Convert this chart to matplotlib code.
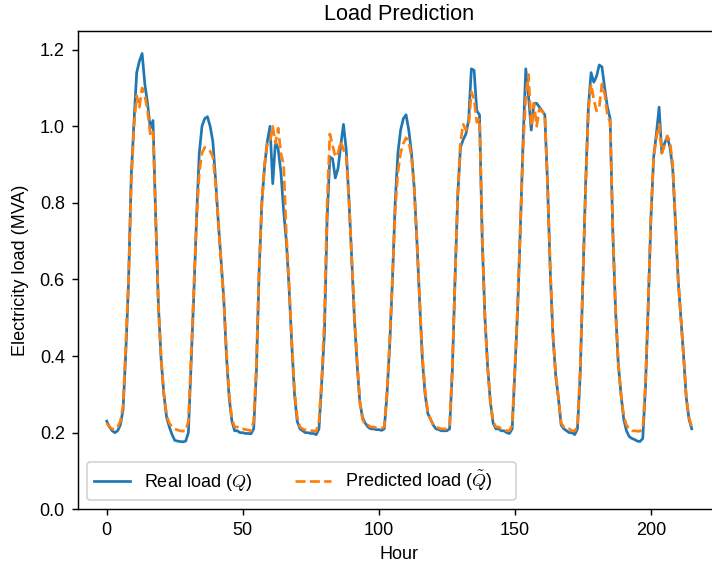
import numpy as np
import matplotlib
matplotlib.use('Agg')
import matplotlib.pyplot as plt

plt.rcParams['font.family'] = ['Liberation Sans', 'DejaVu Sans']
plt.rcParams['mathtext.fontset'] = 'cm'

# Real load (MVA), one row per day (24 hours each)
real_load = [
    0.23, 0.215, 0.205, 0.20, 0.205, 0.22, 0.26, 0.41, 0.59, 0.87, 1.01, 1.14, 1.17, 1.19, 1.11, 1.06, 0.995, 1.015, 0.76, 0.53, 0.39, 0.30, 0.24, 0.215,
    0.195, 0.18, 0.178, 0.177, 0.176, 0.178, 0.20, 0.38, 0.56, 0.76, 0.93, 1.00, 1.02, 1.025, 1.00, 0.96, 0.86, 0.75, 0.65, 0.55, 0.40, 0.29, 0.23, 0.205,
    0.205, 0.20, 0.20, 0.198, 0.198, 0.197, 0.21, 0.36, 0.62, 0.80, 0.895, 0.96, 1.00, 0.85, 0.96, 0.94, 0.88, 0.78, 0.70, 0.58, 0.43, 0.30, 0.23, 0.21,
    0.205, 0.20, 0.20, 0.198, 0.198, 0.195, 0.21, 0.33, 0.46, 0.76, 0.92, 0.915, 0.865, 0.89, 0.95, 1.005, 0.94, 0.81, 0.66, 0.50, 0.38, 0.28, 0.24, 0.225,
    0.215, 0.21, 0.21, 0.208, 0.208, 0.206, 0.21, 0.30, 0.43, 0.60, 0.80, 0.93, 0.99, 1.02, 1.03, 0.99, 0.93, 0.84, 0.70, 0.54, 0.39, 0.30, 0.25, 0.235,
    0.22, 0.21, 0.208, 0.205, 0.205, 0.205, 0.21, 0.36, 0.60, 0.82, 0.945, 0.965, 0.98, 1.016, 1.15, 1.146, 1.04, 1.03, 0.70, 0.50, 0.37, 0.28, 0.225, 0.21,
    0.21, 0.205, 0.205, 0.20, 0.198, 0.21, 0.36, 0.52, 0.73, 0.96, 1.15, 1.08, 0.99, 1.06, 1.06, 1.05, 1.04, 1.03, 0.85, 0.62, 0.45, 0.35, 0.29, 0.22,
    0.21, 0.205, 0.20, 0.20, 0.195, 0.21, 0.35, 0.60, 0.85, 1.05, 1.14, 1.115, 1.13, 1.16, 1.155, 1.10, 1.05, 1.02, 0.72, 0.52, 0.38, 0.30, 0.235, 0.205,
    0.19, 0.185, 0.182, 0.178, 0.177, 0.185, 0.32, 0.53, 0.76, 0.92, 0.98, 1.05, 0.93, 0.955, 0.973, 0.945, 0.89, 0.75, 0.60, 0.50, 0.40, 0.29, 0.235, 0.21,
]

# Predicted load (MVA)
pred_load = [
    0.225, 0.215, 0.21, 0.208, 0.215, 0.23, 0.27, 0.43, 0.60, 0.85, 1.00, 1.08, 1.05, 1.10, 1.08, 1.04, 0.98, 0.99, 0.76, 0.53, 0.39, 0.30, 0.245, 0.225,
    0.215, 0.21, 0.207, 0.205, 0.204, 0.205, 0.23, 0.40, 0.58, 0.75, 0.88, 0.93, 0.945, 0.94, 0.935, 0.92, 0.85, 0.75, 0.65, 0.55, 0.41, 0.30, 0.235, 0.215,
    0.215, 0.21, 0.21, 0.208, 0.207, 0.205, 0.23, 0.38, 0.63, 0.80, 0.90, 0.955, 0.96, 1.00, 0.955, 0.995, 0.93, 0.90, 0.72, 0.59, 0.44, 0.31, 0.24, 0.215,
    0.21, 0.207, 0.205, 0.205, 0.205, 0.204, 0.23, 0.34, 0.50, 0.80, 0.98, 0.95, 0.92, 0.93, 0.96, 0.94, 0.92, 0.81, 0.66, 0.51, 0.39, 0.285, 0.235, 0.22,
    0.22, 0.215, 0.215, 0.213, 0.213, 0.212, 0.215, 0.31, 0.44, 0.60, 0.78, 0.88, 0.93, 0.955, 0.97, 0.96, 0.92, 0.84, 0.70, 0.55, 0.40, 0.31, 0.255, 0.235,
    0.22, 0.215, 0.212, 0.21, 0.21, 0.21, 0.22, 0.37, 0.60, 0.82, 0.96, 1.005, 0.99, 1.00, 1.09, 1.07, 1.01, 1.02, 0.72, 0.50, 0.37, 0.28, 0.23, 0.215,
    0.215, 0.21, 0.21, 0.205, 0.205, 0.22, 0.37, 0.53, 0.74, 0.94, 1.08, 1.135, 1.00, 1.06, 1.00, 1.045, 1.04, 1.03, 0.85, 0.63, 0.46, 0.35, 0.29, 0.225,
    0.215, 0.21, 0.21, 0.205, 0.205, 0.215, 0.37, 0.60, 0.84, 1.04, 1.11, 1.07, 1.04, 1.05, 1.11, 1.085, 1.03, 1.01, 0.73, 0.52, 0.38, 0.30, 0.245, 0.22,
    0.21, 0.205, 0.205, 0.204, 0.204, 0.21, 0.33, 0.54, 0.77, 0.92, 0.97, 1.005, 0.93, 0.95, 0.975, 0.96, 0.90, 0.75, 0.60, 0.50, 0.40, 0.29, 0.24, 0.215,
]

hours = np.arange(len(real_load))

fig = plt.figure(figsize=(712 / 130, 565 / 130), dpi=130)
ax = fig.add_axes([77.5 / 712, 1 - 509.3 / 565, (721 - 77.5) / 712, (509.3 - 30.5) / 565])

ax.plot(hours, real_load, color='tab:blue', label=r"Real load ($Q$)  ")
ax.plot(hours, pred_load, color='tab:orange', linestyle='--', label=r"Predicted load ($\tilde{Q}$)    ")
ax.set_ylim(0, 1.25)
ax.set_title("Load Prediction")
ax.set_xlabel("Hour")
ax.set_ylabel("Electricity load (MVA)", labelpad=6)
ax.legend(loc='lower left', ncol=2)

fig.savefig('out.png', dpi=130)
